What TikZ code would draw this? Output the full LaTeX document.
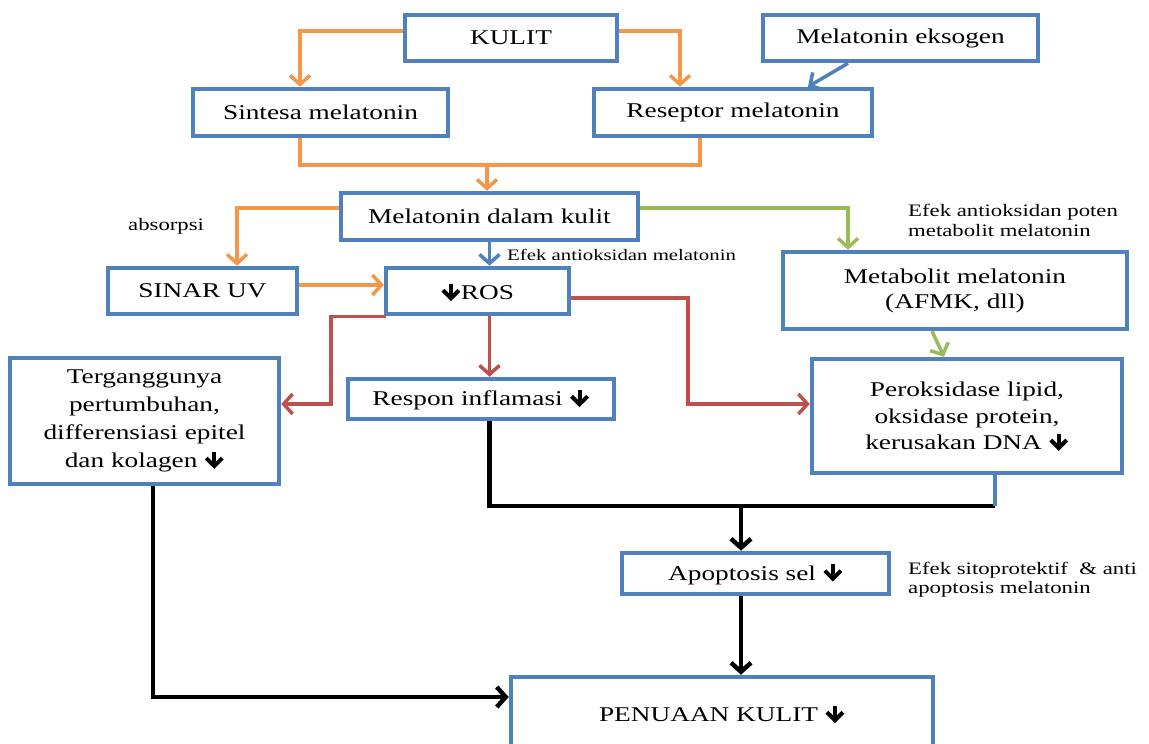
\documentclass[tikz,border=0pt]{standalone}
\usepackage{fontspec}
\setmainfont{Liberation Serif}[FakeStretch=1.3]
\usetikzlibrary{arrows.meta}
\definecolor{bx}{HTML}{4F81BD}
\definecolor{og}{HTML}{F79646}
\definecolor{gr}{HTML}{9BBB59}
\definecolor{rd}{HTML}{C0504D}
\newcommand\dar{\tikz[baseline=0pt,x=1pt,y=1pt]{\draw[black,line width=4pt] (0,16)--(0,2); \draw[black,line width=4pt,line join=miter,line cap=butt] (-8,9.5)--(0,1.5)--(8,9.5);}}
\begin{document}
\begin{tikzpicture}[x=1pt,y=-1pt,
  box/.style={draw=bx, line width=4.5pt, fill=white, inner sep=0pt, align=center, font=\fontsize{21}{27}\selectfont},
  lab/.style={inner sep=0pt, align=left, anchor=west, font=\fontsize{17.5}{19.5}\selectfont},
  tip/.style={-{Straight Barb[length=9pt,width=20pt]}},
  ol/.style={draw=og, line width=3.5pt},
  oa/.style={ol, tip},
  ga/.style={draw=gr, line width=3.5pt, tip},
  ba/.style={draw=bx, line width=3.5pt, tip},
  bl/.style={draw=bx, line width=4pt},
  ra/.style={draw=rd, line width=3.5pt, tip},
  kl/.style={draw=black, line width=4.5pt},
  ka/.style={kl, tip}]
\fill[white] (0,0) rectangle (1149,744);
\useasboundingbox (0,0) rectangle (1149,744);

\node[box, minimum width=212pt, minimum height=46pt] (kulit) at (511,38) {KULIT};
\node[box, minimum width=275pt, minimum height=46pt] (eksogen) at (900.5,38) {Melatonin eksogen};
\node[box, minimum width=255pt, minimum height=47pt] (sintesa) at (320.5,112.5) {Sintesa melatonin};
\node[box, minimum width=278pt, minimum height=47pt] (reseptor) at (733,112.5) {Reseptor melatonin};
\node[box, minimum width=297pt, minimum height=47pt] (mdk) at (489.5,216.5) {Melatonin dalam kulit};
\node[box, minimum width=189pt, minimum height=46pt] (sinar) at (202.5,291) {SINAR UV};
\node[box, minimum width=183pt, minimum height=46pt] (ros) at (477.5,291) {\dar ROS};
\node[box, minimum width=344pt, minimum height=77pt, font=\fontsize{21}{25}\selectfont] (metab) at (955,290.5) {Metabolit melatonin\\(AFMK, dll)};
\node[box, minimum width=269pt, minimum height=126pt, font=\fontsize{21}{28}\selectfont] (terg) at (144.5,421) {Terganggunya\\pertumbuhan,\\differensiasi epitel\\dan kolagen \dar};
\node[box, minimum width=266pt, minimum height=40pt] (respon) at (481,399) {Respon inflamasi \dar};
\node[box, minimum width=310pt, minimum height=114pt, font=\fontsize{21}{26.5}\selectfont] (perok) at (967,416) {Peroksidase lipid,\\oksidase protein,\\kerusakan DNA \dar};
\node[box, minimum width=267pt, minimum height=41pt] (apop) at (755.5,573.5) {Apoptosis sel \dar};
\node[box, minimum width=422pt, minimum height=72pt] (pen) at (722,713) {PENUAAN KULIT \dar};

\node[lab] (labs) at (128,226) {absorpsi};
\node[lab, font=\fontsize{16}{18}\selectfont] (lant) at (507,255) {Efek antioksidan melatonin};
\node[lab] (lpot) at (908,220.5) {Efek antioksidan poten\\metabolit melatonin};
\node[lab] (lsit) at (908,579.5) {Efek sitoprotektif~ \& anti\\apoptosis melatonin};

\draw[oa] ([yshift=7pt]kulit.west) -| ([xshift=-20.5pt]sintesa.north);
\draw[oa] ([yshift=7pt]kulit.east) -| ([xshift=-53pt]reseptor.north);
\draw[ba] ([xshift=-52.5pt]eksogen.south) -- ([xshift=75pt]reseptor.north);
\coordinate (j1) at (300,165);
\coordinate (j2) at (700,165);
\draw[ol, line join=miter] ([xshift=-20.5pt]sintesa.south) -- (j1) -- (j2) -- ([xshift=-33pt]reseptor.south);
\draw[oa] ([xshift=-2.5pt]mdk.north |- j1) -- ([xshift=-2.5pt]mdk.north);
\draw[oa] ([yshift=8.5pt]mdk.west) -| ([xshift=34.5pt]sinar.north);
\draw[ga] ([yshift=8.5pt]mdk.east) -| ([xshift=-107pt]metab.north);
\draw[ba] (mdk.south) -- (mdk.south |- ros.north);
\draw[oa] ([yshift=6pt]sinar.east) -- ([yshift=6pt]ros.west);
\coordinate (r1) at (331,0);
\draw[ra] ([xshift=2pt]ros.south west) -- (r1 |- ros.south west) |- ([yshift=17pt]terg.east);
\draw[ra] (mdk.south |- ros.south) -- (mdk.south |- respon.north);
\coordinate (r2) at (688,298);
\draw[ra] ([yshift=-7pt]ros.east) -- (r2) |- ([yshift=12pt]perok.west);
\draw[ga] ([xshift=-23pt]metab.south) -- ([xshift=-23pt]perok.north);
\coordinate (k2) at (995,506);
\coordinate (k3) at (741,506);
\draw[kl] (mdk.south |- respon.south) |- (k2);
\draw[bl] ([xshift=28pt]perok.south) -- (k2);
\draw[ka] (k3) -- (k3 |- apop.north);
\draw[ka] (k3 |- apop.south) -- (k3 |- pen.north);
\draw[ka] ([xshift=8.5pt]terg.south) |- ([yshift=16pt]pen.west);
\end{tikzpicture}
\end{document}
